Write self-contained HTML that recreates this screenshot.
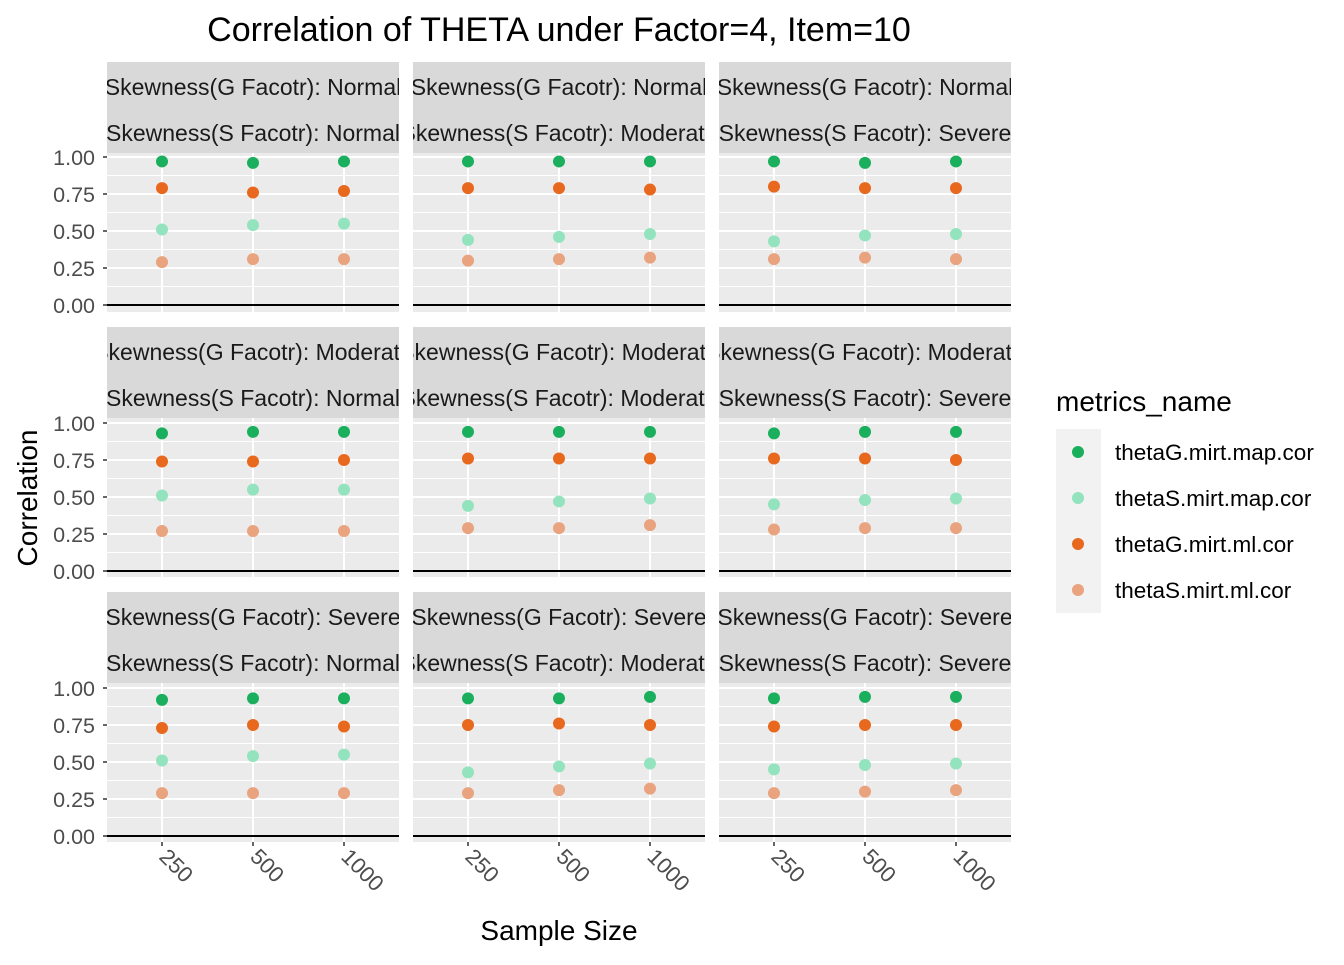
<!DOCTYPE html>
<html><head><meta charset="utf-8"><style>
body{margin:0;background:#fff;}
svg text{font-family:"Liberation Sans",Arial,sans-serif;}
</style></head><body>
<svg id="chart" width="1344" height="960" xmlns="http://www.w3.org/2000/svg"></svg>
<script>
const categories = ["250","500","1000"];
const seriesNames = ["thetaG.mirt.map.cor","thetaS.mirt.map.cor","thetaG.mirt.ml.cor","thetaS.mirt.ml.cor"];
const seriesColors = ["#1AAF5D","#93E3BE","#E8681E","#E9A37E"];
const yTicks = [0,0.25,0.5,0.75,1];
const yTickLabels = ["0.00","0.25","0.50","0.75","1.00"];
const gLevels = ["Normal","Moderate","Severe"];
const sLevels = ["Normal","Moderate","Severe"];
// values[row][col][series] = [v250, v500, v1000]
const thetaGMap = [
 [[0.97,0.96,0.97],[0.97,0.97,0.97],[0.97,0.96,0.97]],
 [[0.93,0.94,0.94],[0.94,0.94,0.94],[0.93,0.94,0.94]],
 [[0.92,0.93,0.93],[0.93,0.93,0.94],[0.93,0.94,0.94]]];
const thetaSMap = [
 [[0.51,0.54,0.55],[0.44,0.46,0.48],[0.43,0.47,0.48]],
 [[0.51,0.55,0.55],[0.44,0.47,0.49],[0.45,0.48,0.49]],
 [[0.51,0.54,0.55],[0.43,0.47,0.49],[0.45,0.48,0.49]]];
const thetaGMl = [
 [[0.79,0.76,0.77],[0.79,0.79,0.78],[0.80,0.79,0.79]],
 [[0.74,0.74,0.75],[0.76,0.76,0.76],[0.76,0.76,0.75]],
 [[0.73,0.75,0.74],[0.75,0.76,0.75],[0.74,0.75,0.75]]];
const thetaSMl = [
 [[0.29,0.31,0.31],[0.30,0.31,0.32],[0.31,0.32,0.31]],
 [[0.27,0.27,0.27],[0.29,0.29,0.31],[0.28,0.29,0.29]],
 [[0.29,0.29,0.29],[0.29,0.31,0.32],[0.29,0.30,0.31]]];
const allSeries = [thetaGMap, thetaSMap, thetaGMl, thetaSMl];

const NS="http://www.w3.org/2000/svg";
const svg=document.getElementById('chart');
function mk(tag,attrs,parent){const e=document.createElementNS(NS,tag);for(const k in attrs)e.setAttribute(k,attrs[k]);(parent||svg).appendChild(e);return e;}
const colX=[107,413,719], panelW=292;
const stripTop=[62,327,592], plotTop=[153,418,683], plotBot=[312,577,842], zeroY=[305,571,836];
const yScale=148;
function yPos(r,v){return zeroY[r]-v*yScale;}
function xPos(c,i){return colX[c]+55+i*91;}

let t=mk('text',{x:559,y:41,'font-size':34,'text-anchor':'middle',fill:'#000'});

t.textContent='Correlation of THETA under Factor=4, Item=10';

const defs=mk('defs',{});
for(let r=0;r<3;r++)for(let c=0;c<3;c++){
  const g=mk('g',{});
  
  
  const cp=mk('clipPath',{id:'cp'+r+c},defs);mk('rect',{x:colX[c],y:stripTop[r],width:panelW,height:plotTop[r]-stripTop[r]},cp);
  const st=mk('rect',{x:colX[c],y:stripTop[r],width:panelW,height:plotTop[r]-stripTop[r],fill:'#D9D9D9'},g);
  
  const tg=mk('g',{'clip-path':'url(#cp'+r+c+')'},g);
  let a=mk('text',{x:colX[c]+panelW/2,y:stripTop[r]+33,'font-size':23,'text-anchor':'middle',fill:'#1A1A1A'},tg);
  
  a.textContent='Skewness(G Facotr): '+gLevels[r];
  let b=mk('text',{x:colX[c]+panelW/2,y:stripTop[r]+79,'font-size':23,'text-anchor':'middle',fill:'#1A1A1A'},tg);
  
  b.textContent='Skewness(S Facotr): '+sLevels[c];
  const bg=mk('rect',{x:colX[c],y:plotTop[r],width:panelW,height:plotBot[r]-plotTop[r],fill:'#EBEBEB'},g);
  
  for(let k=0;k<yTicks.length-1;k++){const m=(yTicks[k]+yTicks[k+1])/2;mk('line',{x1:colX[c],x2:colX[c]+panelW,y1:yPos(r,m),y2:yPos(r,m),stroke:'#fff','stroke-width':1},g);}
  yTicks.forEach(v=>mk('line',{x1:colX[c],x2:colX[c]+panelW,y1:yPos(r,v),y2:yPos(r,v),stroke:'#fff','stroke-width':2},g));
  categories.forEach((_,i)=>mk('line',{x1:xPos(c,i),x2:xPos(c,i),y1:plotTop[r],y2:plotBot[r],stroke:'#fff','stroke-width':2},g));
  const hl=mk('line',{x1:colX[c],x2:colX[c]+panelW,y1:zeroY[r],y2:zeroY[r],stroke:'#000','stroke-width':2},g);
  
  allSeries.forEach((s,si)=>{
    s[r][c].forEach((v,i)=>{
      const p=mk('circle',{cx:xPos(c,i),cy:yPos(r,v),r:6,fill:seriesColors[si]},g);
      
      
    });
  });
  if(c===0){
    yTicks.forEach((v,k)=>{
      mk('line',{x1:colX[0]-4,x2:colX[0],y1:yPos(r,v),y2:yPos(r,v),stroke:'#333','stroke-width':1.5});
      const tl=mk('text',{x:colX[0]-12,y:yPos(r,v)+8,'font-size':21.5,'text-anchor':'end',fill:'#4D4D4D'});
      
      tl.textContent=yTickLabels[k];
    });
  }
  if(r===2){
    categories.forEach((lab,i)=>{
      mk('line',{x1:xPos(c,i),x2:xPos(c,i),y1:842,y2:846,stroke:'#333','stroke-width':1.5});
      const tl=mk('text',{x:xPos(c,i)-4,y:858,'font-size':22,fill:'#4D4D4D',transform:'rotate(45 '+(xPos(c,i)-4)+' 858)'});
      
      tl.textContent=lab;
    });
  }
}
t=mk('text',{x:559,y:940,'font-size':28,'text-anchor':'middle',fill:'#000'});
t.textContent='Sample Size';
t=mk('text',{x:37,y:498,'font-size':28,'text-anchor':'middle',fill:'#000',transform:'rotate(-90 37 498)'});
t.textContent='Correlation';
t=mk('text',{x:1056,y:411,'font-size':28,fill:'#000'});
t.textContent='metrics_name';
seriesNames.forEach((n,i)=>{
  const y=452+i*46;
  const g=mk('g',{});
  
  mk('rect',{x:1056,y:y-23,width:45,height:46,fill:'#F2F2F2'},g);
  mk('circle',{cx:1078,cy:y,r:6,fill:seriesColors[i]},g);
  const l=mk('text',{x:1115,y:y+8,'font-size':22.5,fill:'#000'},g);l.textContent=n;
});
</script>
</body></html>
